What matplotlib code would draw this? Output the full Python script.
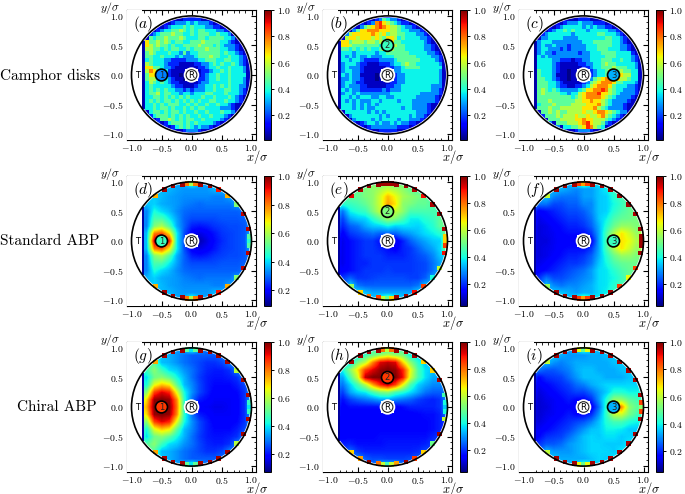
import numpy as np
import matplotlib
matplotlib.use('Agg')
import matplotlib.pyplot as plt
from matplotlib.patches import Circle, Rectangle

plt.rcParams['mathtext.fontset'] = 'cm'
plt.rcParams['font.family'] = 'cmr10'
plt.rcParams['axes.unicode_minus'] = False

W, H = 685, 494

# camphor panels: 33 bins per side, one digit per bin in tenths, top row is y=1
# rows starting with ... begin at the wall (13 bins | x=0 | right side), the short ones are centred on x=0
grid_a = [
    "1111111",
    "112222211",
    "1233343433321",
    "12344454544433221",
    "123445565454554443321",
    "23455565544545554454431",
    "1545565556544455455554431",
    "... 1755656545544 5 556555544321",
    "... 1765655454455 5 5655545433321",
    "... 1665545455445 4 55565554433211",
    "... 1565444544353 4 45555554544321",
    "... 1554454443433 3 455565544544321",
    "... 1454443322223 3 344555445544321",
    "... 1654443222111 1 223345454454321",
    "... 1775543321111 1 122344544544431",
    "... 1687544211111 1 112234454544431",
    "... 1577544211010 0 112344544544441",
    "... 1566444321101 1 122344544544431",
    "... 1465454322111 1 123344444544431",
    "... 1454444432211 1 233445454544331",
    "... 1454545443323 2 333445445544321",
    "... 1455645544344 3 444554445444321",
    "... 1445545454545 4 44544544454321",
    "... 1454545545454 5 45445544544321",
    "... 1445454555445 4 5445445443211",
    "... 1445455454454 5 455444433321",
    "1455454554544544544454431",
    "24555454545445445444321",
    "125565454554454444321",
    "12455545454444321",
    "1245454343321",
    "112333211",
    "1111111",
]
grid_b = [
    "2222221",
    "123543321",
    "1238976543221",
    "13567898766543321",
    "135778887776654433321",
    "36777778767566554443321",
    "1677677767657764544443321",
    "... 1775666566566 7 755444444321",
    "... 1776555555546 6 6655444443321",
    "... 1554545454456 5 65554444433211",
    "... 1444344444344 5 55555444443321",
    "... 1434343343334 4 455555544443321",
    "... 1443443222233 3 345555554444321",
    "... 1344432211122 2 344565544444431",
    "... 1343332111111 2 233455554444441",
    "... 1344332111111 1 233444444444431",
    "... 1434331111010 1 123344444444431",
    "... 1334332111011 1 123344444444431",
    "... 1344322111111 1 223344444444431",
    "... 1343332211111 2 233444444443331",
    "... 1434332222223 2 333444444443321",
    "... 1344343333333 3 444444443333321",
    "... 1443434443344 3 34444443333321",
    "... 1434343334434 4 44344433333321",
    "... 1444343434344 4 4444443333211",
    "... 1444343433444 4 444344333321",
    "1444444343434444444433321",
    "13444444434344444343321",
    "134444343444434433321",
    "12344343343433221",
    "1233333332221",
    "112222211",
    "1111111",
]
grid_c = [
    "1111111",
    "111222111",
    "1233343332221",
    "12344444343433221",
    "123445454443444443321",
    "23444444344444455444321",
    "1334444333344444445544321",
    "... 1344433333333 4 445555544321",
    "... 1343343332333 3 4445555443321",
    "... 1344333232333 3 44455544433211",
    "... 1343323333332 3 34445555444421",
    "... 1434333333333 3 344445554444321",
    "... 1444433222122 3 344455544544321",
    "... 1444432111112 2 334456554444431",
    "... 1444432111111 2 234455565554431",
    "... 1544432110111 1 123445655655441",
    "... 1544431110100 1 123445678766441",
    "... 1554432110111 1 235678887665441",
    "... 1555443211111 2 356788875544431",
    "... 1555443221122 3 467888754443321",
    "... 1565454333334 5 778898654433321",
    "... 1565555443446 7 888977654333321",
    "... 1555555555456 7 88887654333321",
    "... 1555655555566 7 78776543333211",
    "... 1455565555666 6 7778654333211",
    "... 1555655666666 7 778654333321",
    "1556565566667667887654331",
    "25556566676676678654321",
    "155566667787766654321",
    "15556667897665321",
    "1445567986541",
    "112333211",
    "1111111",
]

# particle panels: bin centres -1 to 1 in steps of 0.125, values in %, 0 is outside the disk
grid_d = [
    [0,0,0,0,0,0,0,37,52,37,0,0,0,0,0,0,0],
    [0,0,0,0,37,37,35,34,34,34,34,37,37,0,0,0,0],
    [0,0,0,39,37,35,34,33,33,33,33,32,32,35,0,0,0],
    [0,0,0,39,36,35,34,32,31,30,31,31,31,31,35,0,0],
    [0,0,32,44,40,37,33,30,29,29,29,29,29,29,29,31,0],
    [0,0,32,49,49,42,35,29,27,27,27,27,28,28,28,29,0],
    [0,0,32,55,60,50,36,29,23,22,23,25,26,27,27,28,35],
    [0,0,37,80,85,70,42,27,19,17,19,22,25,26,27,28,39],
    [0,0,37,95,95,90,42,27,15,13,17,21,24,26,27,28,49],
    [0,0,37,80,85,70,42,27,19,17,19,22,25,26,27,28,39],
    [0,0,32,55,60,50,36,29,23,22,23,25,26,27,27,28,35],
    [0,0,32,49,49,42,35,29,27,27,27,27,28,28,28,29,0],
    [0,0,32,44,40,37,33,30,29,29,29,29,29,29,29,31,0],
    [0,0,0,39,36,35,34,32,31,30,31,31,31,31,35,0,0],
    [0,0,0,39,37,35,34,33,33,33,33,32,32,35,0,0,0],
    [0,0,0,0,37,37,35,34,34,34,34,37,37,0,0,0,0],
    [0,0,0,0,0,0,0,37,52,37,0,0,0,0,0,0,0],
]
grid_e = [
    [0,0,0,0,0,0,0,44,54,44,0,0,0,0,0,0,0],
    [0,0,0,0,49,52,54,57,60,57,54,49,46,0,0,0,0],
    [0,0,0,49,49,52,54,62,72,65,57,54,52,49,0,0,0],
    [0,0,0,44,46,49,54,62,75,68,54,52,49,49,46,0,0],
    [0,0,27,39,42,44,52,60,60,60,54,46,46,46,46,46,0],
    [0,0,22,32,35,36,42,49,55,52,46,39,39,42,44,49,0],
    [0,0,19,25,27,32,35,36,39,36,37,37,36,39,42,49,50],
    [0,0,15,21,23,25,27,25,25,25,29,31,34,37,39,42,55],
    [0,0,13,17,19,21,21,17,13,13,19,25,29,32,35,36,65],
    [0,0,13,17,19,21,21,19,17,15,19,21,25,29,32,37,60],
    [0,0,13,17,19,21,21,21,19,19,19,21,23,25,29,35,39],
    [0,0,13,17,19,19,21,21,21,21,21,21,22,23,27,32,0],
    [0,0,15,17,19,21,21,21,22,21,21,21,22,23,27,35,0],
    [0,0,0,25,21,21,22,23,23,23,23,22,22,25,32,0,0],
    [0,0,0,37,27,25,25,25,25,25,25,25,27,35,0,0,0],
    [0,0,0,0,39,35,32,32,32,32,32,32,37,0,0,0,0],
    [0,0,0,0,0,0,0,44,55,44,0,0,0,0,0,0,0],
]
grid_f = [
    [0,0,0,0,0,0,0,44,55,44,0,0,0,0,0,0,0],
    [0,0,0,0,35,33,31,29,31,31,35,39,44,0,0,0,0],
    [0,0,0,35,29,27,27,27,31,31,35,36,42,46,0,0,0],
    [0,0,0,27,23,23,25,25,29,29,35,36,40,44,49,0,0],
    [0,0,15,17,19,21,23,23,25,29,35,36,42,46,49,50,0],
    [0,0,13,15,17,19,21,21,23,27,35,39,46,49,50,52,0],
    [0,0,12,13,15,17,19,19,21,25,33,42,50,55,55,52,55],
    [0,0,12,13,14,16,17,17,17,21,32,46,58,68,62,55,60],
    [0,0,12,12,14,15,15,13,12,15,32,46,62,68,65,58,60],
    [0,0,12,13,14,16,17,17,17,21,32,46,58,68,62,55,60],
    [0,0,12,13,15,17,19,19,21,25,33,42,50,55,55,52,55],
    [0,0,13,15,17,19,21,21,23,27,35,40,46,49,50,50,0],
    [0,0,15,17,19,21,23,25,27,31,37,38,42,46,49,50,0],
    [0,0,0,27,23,23,25,27,29,31,37,38,40,44,49,0,0],
    [0,0,0,35,29,27,29,29,31,33,37,38,42,46,0,0,0],
    [0,0,0,0,36,35,33,31,33,33,37,39,44,0,0,0,0],
    [0,0,0,0,0,0,0,44,55,44,0,0,0,0,0,0,0],
]
grid_g = [
    [0,0,0,0,0,0,0,37,49,37,0,0,0,0,0,0,0],
    [0,0,0,0,37,35,32,29,27,27,27,27,29,0,0,0,0],
    [0,0,0,49,36,35,32,29,27,25,23,23,25,31,0,0,0],
    [0,0,0,55,46,39,37,32,29,25,22,21,21,23,31,0,0],
    [0,0,39,52,55,50,42,35,29,24,21,20,20,21,23,31,0],
    [0,0,42,65,72,68,50,36,31,25,21,19,19,19,21,25,0],
    [0,0,55,85,92,88,65,42,32,25,21,18,18,18,19,23,37],
    [0,0,70,98,100,98,78,44,29,21,19,17,17,17,18,23,36],
    [0,0,75,100,100,100,80,44,22,17,17,16,16,17,18,23,42],
    [0,0,70,98,100,98,78,44,29,21,19,17,17,17,18,23,36],
    [0,0,55,85,92,88,65,42,32,25,21,18,18,18,19,23,37],
    [0,0,42,65,72,68,50,36,31,25,21,19,19,19,21,25,0],
    [0,0,39,52,55,50,42,35,29,24,21,20,20,21,23,31,0],
    [0,0,0,55,46,39,37,32,29,25,22,21,21,23,31,0,0],
    [0,0,0,49,36,35,32,29,27,25,23,23,25,31,0,0,0],
    [0,0,0,0,37,35,32,29,27,27,27,27,29,0,0,0,0],
    [0,0,0,0,0,0,0,37,49,37,0,0,0,0,0,0,0],
]
grid_h = [
    [0,0,0,0,0,0,0,37,39,37,0,0,0,0,0,0,0],
    [0,0,0,0,37,44,50,55,60,55,52,39,35,0,0,0,0],
    [0,0,0,36,52,60,78,92,95,92,70,54,42,35,0,0,0],
    [0,0,0,54,68,85,92,98,100,98,88,65,46,37,35,0,0],
    [0,0,32,46,62,95,100,100,100,100,90,62,46,37,32,32,0],
    [0,0,27,36,46,58,75,88,95,85,65,46,36,32,29,29,0],
    [0,0,22,32,37,39,46,52,54,46,42,37,32,27,25,25,32],
    [0,0,17,22,25,27,29,32,32,29,27,25,22,20,19,21,35],
    [0,0,15,17,17,17,17,17,15,15,17,19,19,19,19,21,39],
    [0,0,15,15,15,15,15,15,15,15,15,15,16,17,17,19,32],
    [0,0,15,15,15,15,15,15,15,15,15,15,16,16,17,19,0],
    [0,0,15,15,15,15,15,16,16,16,16,16,16,16,17,19,0],
    [0,0,15,16,16,16,16,17,17,17,17,17,17,17,19,22,0],
    [0,0,0,19,17,17,17,17,18,18,18,18,18,19,22,0,0],
    [0,0,0,27,21,19,19,19,19,19,19,19,20,23,0,0,0],
    [0,0,0,0,31,25,23,23,22,22,22,23,25,0,0,0,0],
    [0,0,0,0,0,0,0,37,39,37,0,0,0,0,0,0,0],
]
grid_i = [
    [0,0,0,0,0,0,0,39,49,39,0,0,0,0,0,0,0],
    [0,0,0,0,37,33,31,31,31,33,33,35,36,0,0,0,0],
    [0,0,0,35,31,29,31,33,33,33,33,33,35,36,0,0,0],
    [0,0,0,25,25,27,29,33,35,35,33,33,33,35,36,0,0],
    [0,0,17,21,22,23,27,31,35,35,35,33,33,33,35,36,0],
    [0,0,15,17,19,21,23,27,29,33,35,37,37,37,37,37,0],
    [0,0,13,15,17,19,21,23,23,27,32,36,42,42,40,40,42],
    [0,0,12,14,15,17,19,17,17,21,31,42,55,55,49,46,44],
    [0,0,12,13,15,16,17,15,12,15,27,44,70,78,55,49,50],
    [0,0,12,14,15,17,19,17,17,21,31,44,60,62,52,46,44],
    [0,0,13,15,17,19,21,23,25,29,35,42,46,46,42,40,42],
    [0,0,15,17,19,21,23,27,31,35,36,40,40,39,36,36,0],
    [0,0,17,21,22,23,27,31,35,37,36,38,38,36,37,36,0],
    [0,0,0,25,25,27,31,33,35,37,37,36,36,36,39,0,0],
    [0,0,0,35,31,31,31,33,35,37,37,37,36,39,0,0,0],
    [0,0,0,0,37,33,33,33,33,35,37,36,39,0,0,0,0],
    [0,0,0,0,0,0,0,39,49,39,0,0,0,0,0,0,0],
]

# bins stuck on the wall, upper half positions, lower half is the same with -y
rim_x = [-.6,-.45,-.31,-.15,-.07,0,.07,.15,.31,.45,.6,.75,.87,.95,.97,.97]
rim_y = [.76,.87,.93,.96,.97,.97,.97,.96,.93,.87,.76,.62,.46,.2,.08,0]
rim_d_up = [75,97,97,97,80,60,80,97,97,90,75,55,95,95,50,45]
rim_d_lo = [75,97,97,97,80,60,80,97,97,90,75,55,95,95,50,45]
rim_e_up = [92,96,97,97,97,97,97,97,97,96,90,96,96,96,70,70]
rim_e_lo = [55,70,80,85,60,50,70,97,97,90,85,40,60,90,85,70]
rim_f_up = [60,97,97,96,85,75,85,97,97,97,97,97,96,97,97,97]
rim_f_lo = [55,97,97,96,85,75,85,97,97,97,85,65,85,97,97,97]
rim_g_up = [75,97,97,97,50,40,50,97,97,97,97,60,97,96,45,40]
rim_g_lo = [75,97,97,97,50,40,50,97,97,97,97,60,97,96,45,40]
rim_h_up = [97,97,97,97,80,60,80,97,97,97,70,70,96,45,40,35]
rim_h_lo = [70,75,97,80,60,45,60,75,97,85,70,50,97,60,40,35]
rim_i_up = [60,97,97,97,65,50,65,97,97,97,97,96,97,96,85,55]
rim_i_lo = [60,97,97,97,65,50,65,97,97,97,97,96,97,96,85,55]

letters = ['a', 'b', 'c', 'd', 'e', 'f', 'g', 'h', 'i']
grids = [grid_a, grid_b, grid_c, grid_d, grid_e, grid_f, grid_g, grid_h, grid_i]
rims = [None, None, None, (rim_d_up, rim_d_lo), (rim_e_up, rim_e_lo), (rim_f_up, rim_f_lo),
        (rim_g_up, rim_g_lo), (rim_h_up, rim_h_lo), (rim_i_up, rim_i_lo)]
vmins = [.01, .01, .01, .09, .04, .04, .07, .04, .05]
target_x = [-.5, 0, .5, -.5, 0, .5, -.5, 0, .5]
target_y = [0, .5, 0, 0, .5, 0, 0, .5, 0]
target_num = ['1', '2', '3', '1', '2', '3', '1', '2', '3']
target_val = [.25, .42, .3, .42, .5, .42, .85, .85, .3]

row_labels = ['Camphor disks', 'Standard ABP', 'Chiral ABP']
row_label_x = [0, 0, 17]
row_label_y = [76, 241, 407]

ticks = [-1.0, -0.5, 0.0, 0.5, 1.0]
tick_labels = ['$-1.0$', '$-0.5$', '$0.0$', '$0.5$', '$1.0$']
cbar_ticks = [0.2, 0.4, 0.6, 0.8, 1.0]
cbar_labels = ['$0.2$', '$0.4$', '$0.6$', '$0.8$', '$1.0$']

col_left = [127, 323, 519]
row_top = [10, 176, 342]
ax_w, ax_h = 129, 130


def digit_rows(rows):
    g = []
    for row in rows:
        row = row.replace(' ', '')
        row = row.ljust(33, '.') if row.startswith('...') else row.center(33, '.')
        # digits were read a bit high, 5 on the picture sits nearer 0.47
        g.append([0 if ch == '.' else max(int(ch) * 10 - 3, 2) for ch in row[:33]])
    return g


def fill_outside(g):
    # bins outside the disk get clipped, only need something so the smoothing has no dark halo
    g = np.array(g, dtype=float)
    for _ in range(8):
        for r, c in zip(*np.where(g == 0)):
            near = g[max(r - 1, 0):r + 2, max(c - 1, 0):c + 2]
            if (near > 0).any():
                g[r, c] = near[near > 0].mean()
    return g / 100


def px_axes(left, top, w, h):
    return fig.add_axes([left / W, 1 - (top + h) / H, w / W, h / H])


fig = plt.figure(figsize=(W / 100, H / 100), dpi=100)

for i in range(9):
    left = col_left[i % 3]
    top = row_top[i // 3]
    ax = px_axes(left, top, ax_w, ax_h)
    norm = plt.Normalize(vmins[i], 1.0)
    if i < 3:
        field = fill_outside(digit_rows(grids[i]))
        im = ax.imshow(field, cmap='jet', norm=norm, interpolation='nearest',
                       extent=[-1.03125, 1.03125, -1.03125, 1.03125], aspect='auto', zorder=1)
    else:
        field = fill_outside(grids[i])
        im = ax.imshow(field, cmap='jet', norm=norm, interpolation='bilinear',
                       extent=[-1.0625, 1.0625, -1.0625, 1.0625], aspect='auto', zorder=1)
    im.set_clip_path(Circle((0, 0), 0.975, transform=ax.transData))

    if rims[i] is not None:
        up, lo = rims[i]
        ax.scatter(rim_x, rim_y, c=np.array(up) / 100, cmap='jet', norm=norm, marker='s', s=11,
                   linewidths=0, zorder=2)
        ax.scatter(rim_x, -np.array(rim_y), c=np.array(lo) / 100, cmap='jet', norm=norm, marker='s', s=11,
                   linewidths=0, zorder=2)

    # left part of the disk is the trap region
    ax.add_patch(Rectangle((-1.08, -1.1), 0.26, 2.2, fc='white', ec='none', zorder=3))
    ax.add_patch(Rectangle((-0.83, -0.57), 0.04, 1.14, fc=(0, 0, 0.62), ec='none', zorder=3))
    ax.add_patch(Circle((0, 0), 1.0, fc='none', ec='black', lw=1.2, zorder=5))
    ax.text(-0.9, 0, 'T', fontsize=6, family='DejaVu Sans', ha='center', va='center', zorder=6)

    # R marker
    ax.add_patch(Rectangle((-0.105, -0.105), 0.21, 0.21, fc='white', ec='none', zorder=4))
    ax.add_patch(Circle((0, 0), 0.13, fc='white', ec='none', zorder=4))
    ax.add_patch(Circle((0, 0), 0.09, fc='white', ec='#222222', lw=0.8, zorder=5))
    ax.text(0, 0, 'R', fontsize=6, family='DejaVu Sans', ha='center', va='center', zorder=6)

    # numbered target
    ax.add_patch(Circle((target_x[i], target_y[i]), 0.1, fc=plt.cm.jet(target_val[i]), ec='black',
                        lw=1.2, zorder=5))
    ax.text(target_x[i], target_y[i], target_num[i], fontsize=6, family='DejaVu Sans', color='#222222',
            ha='center', va='center', zorder=6)

    ax.text(-0.97, 0.86, '$(%s)$' % letters[i], fontsize=11, ha='left', va='center', zorder=7)

    ax.set_xlim(-1.075, 1.075)
    ax.set_ylim(-1.1, 1.1)
    ax.set_xticks(ticks, tick_labels, fontsize=7)
    ax.set_yticks(ticks, tick_labels, fontsize=7)
    ax.set_xticks(np.arange(-1.0, 1.01, 0.1), minor=True)
    ax.set_yticks(np.arange(-1.0, 1.01, 0.1), minor=True)
    ax.tick_params(which='major', direction='in', top=True, right=True, length=3.5, width=0.8, pad=2.5)
    ax.tick_params(which='minor', direction='in', top=True, right=True, length=1.8, width=0.6)

    ax.text(1.01, -0.132, r'$x/\sigma$', transform=ax.transAxes, fontsize=9, ha='center', va='center')
    ax.text(-0.13, 1.015, r'$y/\sigma$', transform=ax.transAxes, fontsize=8.5, ha='center', va='center')

    cax = px_axes(left + 137, top, 7, ax_h)
    cb = fig.colorbar(im, cax=cax, ticks=cbar_ticks)
    cb.ax.set_yticklabels(cbar_labels, fontsize=7)
    cb.ax.tick_params(direction='out', length=2, width=0.7, pad=2)
    cb.outline.set_linewidth(0.7)

for label, x, y in zip(row_labels, row_label_x, row_label_y):
    fig.text(x / W, 1 - y / H, label, fontsize=11, ha='left', va='center')

fig.savefig('out.png', dpi=100)
